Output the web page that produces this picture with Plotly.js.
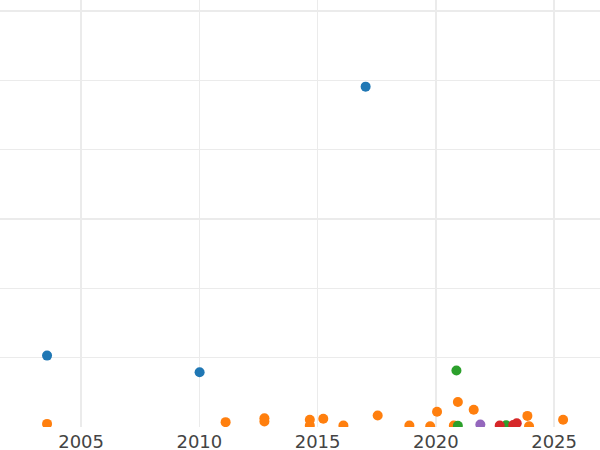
<!DOCTYPE html>
<html>
<head>
<meta charset="utf-8">
<script src="https://cdn.plot.ly/plotly-3.0.1.min.js"></script>
<style>html,body{margin:0;padding:0;background:#fff}#chart{width:600px;height:450px}</style>
</head>
<body>
<div id="chart"></div>
<script>
// Series values (x = year, y = value; y axis unlabeled in the reference)
const blueX = [2003.56, 2010.01, 2017.03];
const blueY = [10.3, 7.9, 49.1];

const orangeX = [2003.56, 2011.11, 2012.75, 2012.75, 2014.67, 2014.67, 2015.24, 2016.09, 2017.54, 2018.88, 2019.76, 2020.05, 2020.76, 2020.93, 2021.6, 2023.87, 2023.94, 2025.38];
const orangeY = [0.45, 0.7, 1.27, 0.8, 1.04, 0.2, 1.18, 0.2, 1.66, 0.2, 0.1, 2.2, 0.2, 3.6, 2.5, 1.6, 0.1, 1.04];

const greenX = [2020.87, 2020.93, 2022.97];
const greenY = [8.16, 0.17, 0.25];

const redX = [2022.7, 2023.27, 2023.42];
const redY = [0.2, 0.3, 0.55];

const purpleX = [2021.88];
const purpleY = [0.36];

const colors = ['#1f77b4', '#ff7f0e', '#2ca02c', '#d62728', '#9467bd'];
const series = [[blueX, blueY], [orangeX, orangeY], [greenX, greenY], [redX, redY], [purpleX, purpleY]];

const data = series.map((s, i) => ({
  x: s[0], y: s[1], type: 'scatter', mode: 'markers',
  marker: {color: colors[i], size: 10, line: {width: 0}},
  showlegend: false, hoverinfo: 'none'
}));

const layout = {
  width: 600, height: 450,
  margin: {l: 0, r: 0, t: 0, b: 23, pad: 0},
  paper_bgcolor: '#ffffff', plot_bgcolor: '#ffffff',
  font: {family: 'DejaVu Sans', size: 18, color: '#444444'},
  showlegend: false,
  xaxis: {
    range: [2001.57, 2026.94],
    tickmode: 'array', tickvals: [2005, 2010, 2015, 2020, 2025],
    ticktext: ['2005', '2010', '2015', '2020', '2025'],
    showgrid: true, gridcolor: '#ebebeb', gridwidth: 1.5,
    zeroline: false, showline: false, ticks: '',
    ticklabelstandoff: 2,
    tickfont: {family: 'DejaVu Sans', size: 18, color: '#444444'}
  },
  yaxis: {
    range: [0, 61.6], dtick: 10, tick0: 0,
    showgrid: true, gridcolor: '#ebebeb', gridwidth: 1.5,
    zeroline: false, showline: false, ticks: '', showticklabels: false
  }
};

Plotly.newPlot('chart', data, layout, {displayModeBar: false, staticPlot: true});
</script>
</body>
</html>
